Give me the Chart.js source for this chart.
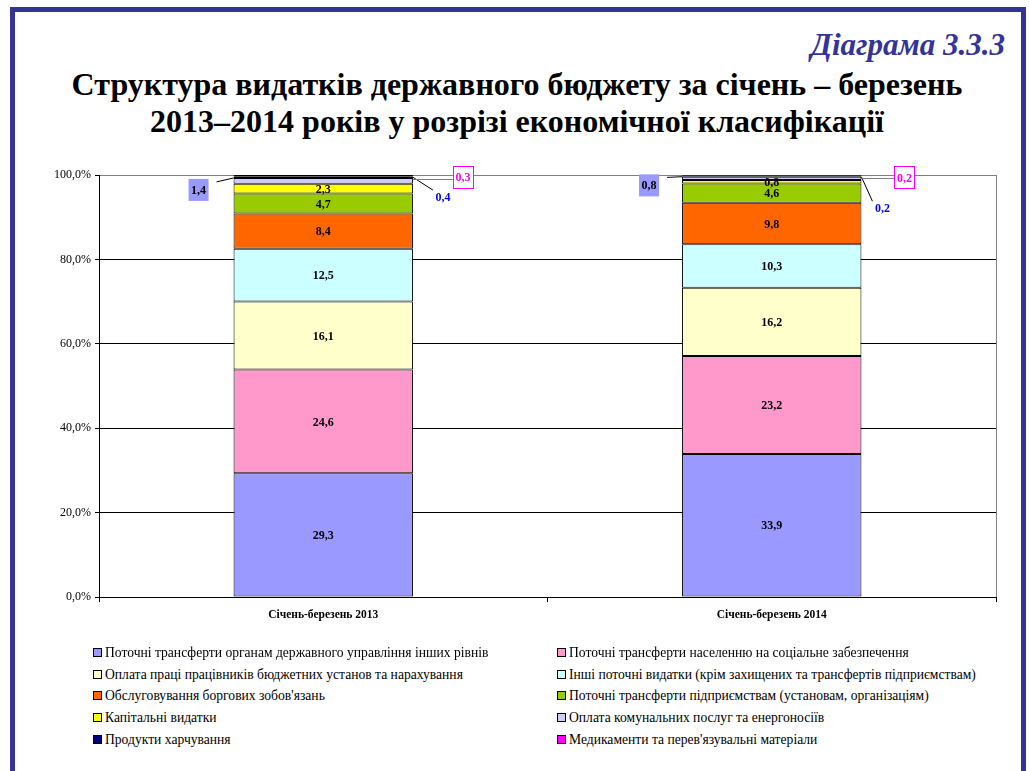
<!DOCTYPE html>
<html>
<head>
<meta charset="utf-8">
<script src="https://cdn.jsdelivr.net/npm/chart.js@4/dist/chart.umd.min.js"></script>
<style>
  body { margin: 0; background: #fff; font-family: 'Liberation Serif', 'Times New Roman', serif; }
  #page { position: relative; width: 1029px; height: 771px; overflow: hidden; }
  #frame { position: absolute; left: 10px; top: 7px; width: 1006px; height: 800px; border: 5px solid #333399; }
  #num { position: absolute; right: 24px; top: 27px; font-size: 31px; font-weight: bold; font-style: italic; color: #333399; }
  #title { position: absolute; left: 0; width: 1034px; top: 66px; text-align: center; font-size: 32px; font-weight: bold; line-height: 37px; color: #000; }
  #wrap { position: absolute; left: 0; top: 0; width: 1029px; height: 650px; }
  #legend { position: absolute; left: 0; top: 0; }
  .item { position: absolute; font-size: 13.6px; line-height: 16px; white-space: nowrap; color: #000; }
  .item i { display: inline-block; width: 7px; height: 7px; border: 1px solid #000; margin-right: 3px; vertical-align: 0px; }
</style>
</head>
<body>
<div id="page">
  <div id="frame"></div>
  <div id="num">Діаграма 3.3.3</div>
  <div id="title">Структура видатків державного бюджету за січень – березень<br>2013–2014 років у розрізі економічної класифікації</div>
  <div id="wrap"><canvas id="myChart" width="1029" height="650"></canvas></div>
  <div id="legend"></div>
</div>
<script>
const periods = ['Січень-березень 2013', 'Січень-березень 2014'];
const names = [
    'Поточні трансферти органам державного управління інших рівнів',
    'Поточні трансферти населенню на соціальне забезпечення',
    'Оплата праці працівників бюджетних установ та нарахування',
    'Інші поточні видатки (крім захищених  та  трансфертів підприємствам)',
    'Обслуговування боргових зобов\'язань',
    'Поточні трансферти підприємствам (установам, організаціям)',
    'Капітальні видатки',
    'Оплата комунальних послуг та енергоносіїв',
    'Продукти харчування',
    'Медикаменти та перев\'язувальні матеріали'
];
const transfersGov = [29.3, 33.9];
const transfersPop = [24.6, 23.2];
const wages = [16.1, 16.2];
const otherCurrent = [12.5, 10.3];
const debtService = [8.4, 9.8];
const transfersEnt = [4.7, 4.6];
const capital = [2.3, 0.8];
const utilities = [1.4, 0.8];
const food = [0.4, 0.2];
const medicine = [0.3, 0.2];
const yTicks = [0, 20, 40, 60, 80, 100];

const colors = ['#9999FF', '#FF99CC', '#FFFFCC', '#CCFFFF', '#FF6600', '#99CC00', '#FFFF00', '#CCCCFF', '#000080', '#FF00FF'];
const series = [transfersGov, transfersPop, wages, otherCurrent, debtService, transfersEnt, capital, utilities, food, medicine];

const fmt = v => v.toFixed(1).replace('.', ',');
const serif = "'Liberation Serif', 'Times New Roman', serif";

// labels of thin segments are drawn outside the bar
const callouts = {
    7: { side: 'left', box: true, bg: '#9999FF', border: null, color: '#000', dx: [-35, -33], dy: [9, 7] },
    8: { side: 'right', box: false, color: '#0000FF', dx: [30, 21], dy: [20, 32], lead: true },
    9: { side: 'right', box: true, bg: '#fff', border: '#FF00FF', color: '#FF00FF', dx: [50, 43], dy: [1, 2] }
};

const barLabels = {
    id: 'barLabels',
    afterDraw(chart) {
        const c = chart.ctx;
        const area = chart.chartArea;
        c.save();
        // plot area border on the right
        c.strokeStyle = '#808080';
        c.lineWidth = 1;
        c.beginPath();
        c.moveTo(Math.round(area.right) + 0.5, area.top);
        c.lineTo(Math.round(area.right) + 0.5, area.bottom);
        c.stroke();

        c.font = 'bold 12px ' + serif;
        c.textAlign = 'center';
        c.textBaseline = 'middle';
        chart.data.datasets.forEach((ds, di) => {
            const meta = chart.getDatasetMeta(di);
            meta.data.forEach((bar, i) => {
                const v = ds.data[i];
                const mid = (bar.y + bar.base) / 2;
                const half = bar.width / 2;
                const co = callouts[di];
                if (!co) {
                    c.fillStyle = '#000';
                    c.fillText(fmt(v), bar.x, mid + 1);
                    return;
                }
                const edge = co.side === 'left' ? bar.x - half : bar.x + half;
                const lx = edge + co.dx[i];
                const ly = mid + co.dy[i];
                c.strokeStyle = co.side === 'left' ? '#000' : (co.lead ? '#000' : '#808080');
                c.lineWidth = 1;
                c.beginPath();
                if (co.side === 'left') {
                    c.moveTo(lx + 18, ly - 8);
                    c.lineTo(edge, bar.y);
                } else if (co.lead) {
                    c.moveTo(edge, bar.y + 1);
                    c.lineTo(lx - 10, ly - 7);
                } else {
                    c.moveTo(edge, Math.round(mid) + 3.5);
                    c.lineTo(lx - 10, Math.round(mid) + 3.5);
                }
                c.stroke();
                if (co.box) {
                    c.fillStyle = co.bg;
                    c.fillRect(lx - 10, ly - 11, 20, 22);
                    if (co.border) {
                        c.strokeStyle = co.border;
                        c.strokeRect(Math.round(lx - 10) + 0.5, Math.round(ly - 11) + 0.5, 20, 22);
                    }
                }
                c.fillStyle = co.color;
                c.fillText(fmt(v), lx, ly + 1);
            });
        });
        c.restore();
    }
};

const ctx = document.getElementById('myChart').getContext('2d');
const myChart = new Chart(ctx, {
    type: 'bar',
    data: {
        labels: periods,
        datasets: series.map((s, k) => ({
            label: names[k],
            data: s,
            backgroundColor: colors[k],
            borderColor: '#000',
            borderWidth: 1,
            borderSkipped: false,
            barPercentage: 0.4,
            categoryPercentage: 1
        }))
    },
    options: {
        responsive: false,
        animation: false,
        layout: { padding: { top: 175, right: 33, left: 0, bottom: 0 } },
        scales: {
            x: {
                stacked: true,
                offset: true,
                grid: { display: true, offset: true, drawOnChartArea: false, tickLength: 5, tickColor: '#000' },
                border: { display: true, color: '#000' },
                ticks: { color: '#000', font: { family: serif, size: 11.5, weight: 'bold' }, padding: 6 },
                afterFit: scale => { scale.height = 53; }
            },
            y: {
                stacked: true,
                min: 0,
                max: 100,
                afterBuildTicks: scale => { scale.ticks = yTicks.map(v => ({ value: v })); },
                grid: {
                    color: c => (c.tick && c.tick.value === 100) ? '#808080' : '#000',
                    tickLength: 4,
                    tickColor: '#000'
                },
                border: { display: true, color: '#000' },
                ticks: {
                    color: '#000',
                    font: { family: serif, size: 12 },
                    padding: 4,
                    callback: v => fmt(v) + '%'
                },
                afterFit: scale => { scale.width = 99; }
            }
        },
        plugins: {
            legend: { display: false },
            title: { display: false },
            tooltip: { enabled: false }
        }
    },
    plugins: [barLabels]
});

// legend in two columns, built from the dataset names and colours
const legend = document.getElementById('legend');
names.forEach((n, k) => {
    const el = document.createElement('div');
    el.className = 'item';
    el.style.left = (k % 2 === 0 ? 93 : 557) + 'px';
    el.style.top = (645 + Math.floor(k / 2) * 21.7) + 'px';
    el.innerHTML = '<i style="background:' + colors[k] + '"></i>' + n;
    legend.appendChild(el);
});
</script>
</body>
</html>
